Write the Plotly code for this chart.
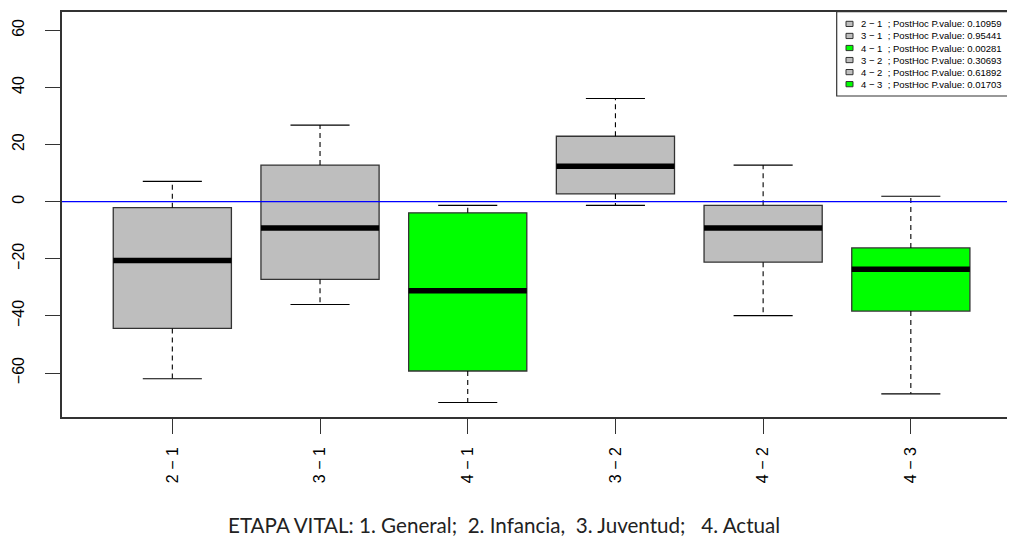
import plotly.graph_objects as go

# ---- data ----
comparisons = ["2 − 1", "3 − 1", "4 − 1", "3 − 2", "4 − 2", "4 − 3"]
pvalues = ["0.10959", "0.95441", "0.00281", "0.30693", "0.61892", "0.01703"]
upper_whisker = [7.1, 26.8, -1.3, 36.1, 12.8, 1.9]
q3 = [-2.1, 12.8, -3.9, 22.9, -1.3, -16.2]
median = [-20.6, -9.2, -31.2, 12.4, -9.2, -23.7]
q1 = [-44.4, -27.2, -59.3, 2.7, -21.2, -38.3]
lower_whisker = [-62.0, -36.0, -70.3, -1.3, -39.9, -67.3]
box_colors = ["#BEBEBE", "#BEBEBE", "#00FF00", "#BEBEBE", "#BEBEBE", "#00FF00"]
y_ticks = [-60, -40, -20, 0, 20, 40, 60]
caption = "ETAPA VITAL: 1. General;\u00a0 2. Infancia,\u00a0 3. Juventud;\u00a0\u00a0 4. Actual"

# ---- layout constants (page has an 8px body margin on every side) ----
OFF = 8
W, H = 1015 - 2 * OFF, 546 - 2 * OFF
ML, MT = 62 - OFF, 12 - OFF
MB = H - (417 - OFF)
MR = 0
PW, PH = W - ML - MR, H - MT - MB
PX_PER_UNIT = 147.7
X0 = 0.253
X1 = X0 + PW / PX_PER_UNIT
BOXW = 0.8
CAPW = 0.4
FONT = "Liberation Sans, Arial, Helvetica, sans-serif"
EDGE = "#333333"

xpos = list(range(1, len(comparisons) + 1))

fig = go.Figure()

# boxes (q1..q3)
fig.add_trace(go.Bar(
    x=xpos, base=q1, y=[b - a for a, b in zip(q1, q3)], width=BOXW,
    marker=dict(color=box_colors, line=dict(color=EDGE, width=1.3)),
    showlegend=False, hoverinfo="skip",
))

# whiskers (dashed), caps (solid), medians (thick)
wx, wy, cx, cy, mx, my = [], [], [], [], [], []
for x, lo, a, m, b, hi in zip(xpos, lower_whisker, q1, median, q3, upper_whisker):
    wx += [x, x, None, x, x, None]
    wy += [b, hi, None, a, lo, None]
    cx += [x - CAPW / 2, x + CAPW / 2, None, x - CAPW / 2, x + CAPW / 2, None]
    cy += [hi, hi, None, lo, lo, None]
    mx += [x - BOXW / 2, x + BOXW / 2, None]
    my += [m, m, None]

fig.add_trace(go.Scatter(x=wx, y=wy, mode="lines",
                         line=dict(color="black", width=1.1, dash="5px,4px"),
                         showlegend=False, hoverinfo="skip"))
fig.add_trace(go.Scatter(x=cx, y=cy, mode="lines",
                         line=dict(color="black", width=1.1),
                         showlegend=False, hoverinfo="skip"))
fig.add_trace(go.Scatter(x=mx, y=my, mode="lines",
                         line=dict(color="black", width=5.5),
                         showlegend=False, hoverinfo="skip"))

# reference line at 0
fig.add_shape(type="line", xref="paper", x0=0, x1=1, yref="y", y0=0, y1=0,
              line=dict(color="#0000FF", width=1.2), layer="above")

# ---- manual legend (R style); positions given in page pixels ----
def px_x(px):
    return (px - OFF - ML) / PW

def px_y(py):
    return (H - MB - (py - OFF)) / PH

fig.add_shape(type="rect", xref="paper", yref="paper",
              x0=px_x(836.7), x1=px_x(1040), y0=px_y(96), y1=px_y(11.7),
              line=dict(color=EDGE, width=1.2), fillcolor="white", layer="above")
for i, (c, p, col) in enumerate(zip(comparisons, pvalues, box_colors)):
    yc = 23.9 + 12.05 * i
    fig.add_shape(type="rect", xref="paper", yref="paper",
                  x0=px_x(846), x1=px_x(853), y0=px_y(yc + 2.6), y1=px_y(yc - 2.6),
                  line=dict(color=EDGE, width=1), fillcolor=col, layer="above")
    fig.add_annotation(xref="paper", yref="paper", x=px_x(858.5), y=px_y(yc),
                       xanchor="left", yanchor="middle", showarrow=False,
                       text=f"{c}\u00a0 ; PostHoc P.value: {p}",
                       font=dict(family=FONT, size=9.5, color="black"))

# caption
fig.add_annotation(xref="paper", yref="paper", x=px_x(503.5), y=px_y(525),
                   xanchor="center", yanchor="middle", showarrow=False,
                   text=caption, font=dict(family="Lato, sans-serif", size=20.6, color="#222222"))

fig.update_layout(
    width=W, height=H,
    margin=dict(l=ML, r=MR, t=MT, b=MB, pad=0),
    paper_bgcolor="white", plot_bgcolor="white",
    barmode="overlay", showlegend=False,
    font=dict(family=FONT, size=16, color="black"),
    xaxis=dict(range=[X0, X1], tickmode="array", tickvals=xpos, ticktext=comparisons,
               tickangle=-90, ticks="outside", ticklen=15, tickwidth=1.2, tickcolor=EDGE,
               showline=True, linecolor=EDGE, linewidth=1.5, mirror=True,
               showgrid=False, zeroline=False, ticklabelstandoff=7),
    yaxis=dict(range=[-75.4, 66.4], tickmode="array", tickvals=y_ticks,
               ticktext=[str(v).replace("-", "−") for v in y_ticks],
               tickangle=-90, ticks="outside", ticklen=15, tickwidth=1.2, tickcolor=EDGE,
               showline=True, linecolor=EDGE, linewidth=1.5, mirror=False,
               showgrid=False, zeroline=False, ticklabelstandoff=15),
)

fig.write_html("out.html")
